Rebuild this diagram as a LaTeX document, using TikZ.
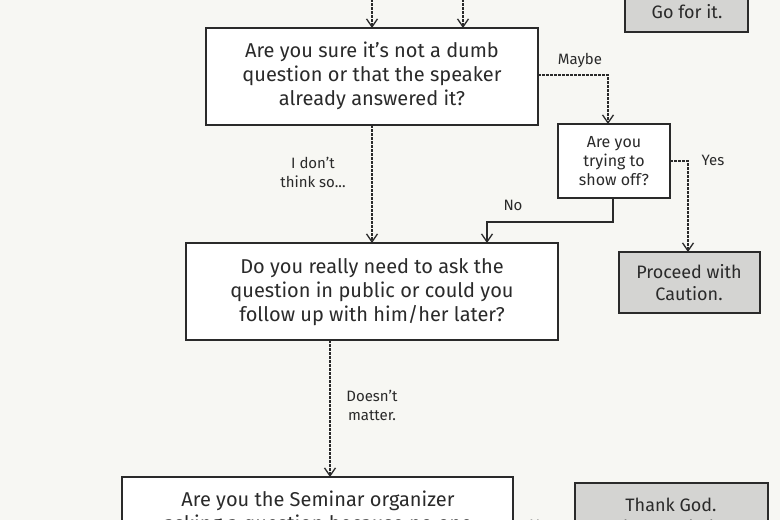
\documentclass[tikz,border=0pt]{standalone}
\usepackage{fontspec}
\setmainfont{Fira Sans}
\usetikzlibrary{arrows.meta}
\definecolor{bg}{HTML}{F7F7F3}
\definecolor{gbox}{HTML}{D4D4D2}
\definecolor{ink}{HTML}{2A2A2A}
\tikzset{
  qbox/.style={draw=ink,line width=1.6pt,fill=white},
  abox/.style={draw=ink,line width=1.6pt,fill=gbox},
  flow/.style={draw=ink,line width=1.1pt,dash pattern=on 2.5pt off 1.5pt,-{Straight Barb[length=8pt,width=11pt,line width=1.3pt]}},
  sflow/.style={draw=ink,line width=1.3pt,-{Straight Barb[length=8pt,width=11pt,line width=1.3pt]}},
  txt/.style={text=ink,font=\fontsize{20}{24}\selectfont,align=center},
  lab/.style={text=ink,font=\fontsize{15}{19}\selectfont,align=center},
}
\begin{document}
\begin{tikzpicture}[x=1pt,y=-1pt]
\useasboundingbox (0,0) rectangle (780,520);
\clip (0,0) rectangle (780,520);
\fill[bg] (0,0) rectangle (780,520);
% boxes
\draw[qbox] (206,28) rectangle (538,125);
\node[txt] (q1) at (372,76) {Are you sure it’s not a dumb\\question or that the speaker\\already answered it?};
\coordinate (q1t1) at (372,28); \coordinate (q1t2) at (463,28);
\coordinate (s1) at (372,-5); \coordinate (s2) at (463,-5);
\draw[abox] (625,-20) rectangle (748,32);
\node[txt,font=\fontsize{18}{22}\selectfont] (go) at (687,12) {Go for it.};
\draw[qbox] (558,124) rectangle (670,198);
\node[lab,font=\fontsize{16}{19}\selectfont] (q2) at (614,161) {Are you\\trying to\\show off?};
\draw[abox] (619,252) rectangle (760,313);
\node[txt,font=\fontsize{18}{22}\selectfont] (pc) at (689,283) {Proceed with\\Caution.};
\draw[qbox] (186,243) rectangle (558,340);
\node[txt] (q3) at (372,292) {Do you really need to ask the\\question in public or could you\\follow up with him/her later?};
\draw[qbox] (122,477) rectangle (513,560);
\node[txt,anchor=north] (q4) at (318,487) {Are you the Seminar organizer\\asking a question because no one};
\draw[abox] (575,483) rectangle (768,560);
\node[txt,font=\fontsize{18}{22}\selectfont,anchor=north] (tg) at (671,494) {Thank God.\\Please ask the};
% connectors
\draw[flow] (s1) -- (q1t1);
\draw[flow] (s2) -- (q1t2);
\draw[flow] (538,75) -- (608,75) -- (608,124);
\node[lab] (lm) at (580,60) {Maybe};
\draw[flow] (670,161) -- (688,161) -- (688,252);
\node[lab] (ly) at (713,160) {Yes};
\draw[sflow] (613,198) -- (613,222) -- (487,222) -- (487,243);
\node[lab] (ln) at (513,205) {No};
\draw[flow] (372,125) -- (372,243);
\node[lab] (ld) at (313,172) {I don’t\\think so...};
\draw[flow] (330,340) -- (330,477);
\node[lab] (lmt) at (372,405) {Doesn’t\\matter.};
\node[lab] (ly2) at (542,525) {Yes};
\end{tikzpicture}
\end{document}
